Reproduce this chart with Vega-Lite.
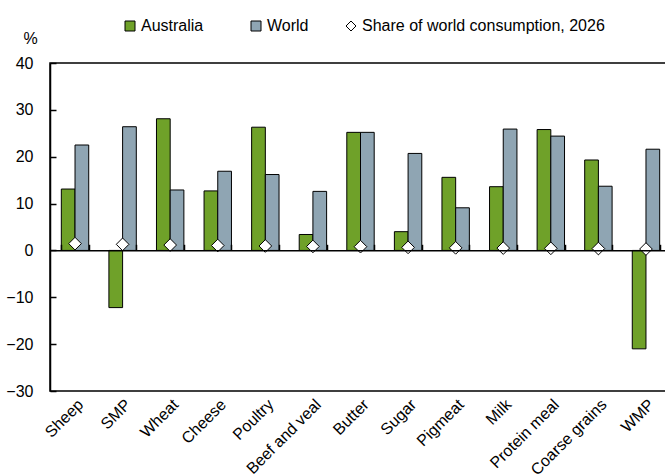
{
  "$schema": "https://vega.github.io/schema/vega-lite/v6.json",
  "width": 621,
  "height": 328,
  "autosize": {"type": "none"},
  "padding": {"left": 50, "top": 63, "right": 0, "bottom": 83},
  "background": "white",
  "config": {
    "font": "Liberation Sans",
    "view": {"stroke": "black", "strokeWidth": 1.5},
    "axis": {"labelColor": "black", "labelFontSize": 16, "labelFont": "Liberation Sans", "grid": false, "titleColor": "black"}
  },
  "datasets": {
    "bars": [
      {"product": "Sheep", "series": "Australia", "value": 13.1},
      {"product": "Sheep", "series": "World", "value": 22.5},
      {"product": "SMP", "series": "Australia", "value": -12.2},
      {"product": "SMP", "series": "World", "value": 26.4},
      {"product": "Wheat", "series": "Australia", "value": 28.1},
      {"product": "Wheat", "series": "World", "value": 12.9},
      {"product": "Cheese", "series": "Australia", "value": 12.7},
      {"product": "Cheese", "series": "World", "value": 16.9},
      {"product": "Poultry", "series": "Australia", "value": 26.3},
      {"product": "Poultry", "series": "World", "value": 16.2},
      {"product": "Beef and veal", "series": "Australia", "value": 3.4},
      {"product": "Beef and veal", "series": "World", "value": 12.6},
      {"product": "Butter", "series": "Australia", "value": 25.2},
      {"product": "Butter", "series": "World", "value": 25.2},
      {"product": "Sugar", "series": "Australia", "value": 4.0},
      {"product": "Sugar", "series": "World", "value": 20.7},
      {"product": "Pigmeat", "series": "Australia", "value": 15.6},
      {"product": "Pigmeat", "series": "World", "value": 9.1},
      {"product": "Milk", "series": "Australia", "value": 13.6},
      {"product": "Milk", "series": "World", "value": 25.9},
      {"product": "Protein meal", "series": "Australia", "value": 25.8},
      {"product": "Protein meal", "series": "World", "value": 24.4},
      {"product": "Coarse grains", "series": "Australia", "value": 19.3},
      {"product": "Coarse grains", "series": "World", "value": 13.7},
      {"product": "WMP", "series": "Australia", "value": -21.0},
      {"product": "WMP", "series": "World", "value": 21.6}
    ],
    "share": [
      {"product": "Sheep", "label": "Share of world consumption, 2026", "share": 1.45},
      {"product": "SMP", "label": "Share of world consumption, 2026", "share": 1.3},
      {"product": "Wheat", "label": "Share of world consumption, 2026", "share": 1.15},
      {"product": "Cheese", "label": "Share of world consumption, 2026", "share": 1.05},
      {"product": "Poultry", "label": "Share of world consumption, 2026", "share": 0.95},
      {"product": "Beef and veal", "label": "Share of world consumption, 2026", "share": 0.85},
      {"product": "Butter", "label": "Share of world consumption, 2026", "share": 0.8},
      {"product": "Sugar", "label": "Share of world consumption, 2026", "share": 0.65},
      {"product": "Pigmeat", "label": "Share of world consumption, 2026", "share": 0.55},
      {"product": "Milk", "label": "Share of world consumption, 2026", "share": 0.5},
      {"product": "Protein meal", "label": "Share of world consumption, 2026", "share": 0.45},
      {"product": "Coarse grains", "label": "Share of world consumption, 2026", "share": 0.4},
      {"product": "WMP", "label": "Share of world consumption, 2026", "share": 0.3}
    ]
  },
  "layer": [
    {
      "data": {"name": "bars"},
      "mark": {"type": "bar", "stroke": "black", "strokeWidth": 1},
      "encoding": {
        "x": {
          "field": "product", "type": "nominal", "sort": null,
          "scale": {"paddingInner": 0.424, "paddingOuter": 0.238},
          "axis": {"orient": "bottom", "title": null, "ticks": false, "domain": false, "labelAngle": -45, "labelPadding": 5}
        },
        "xOffset": {"field": "series", "type": "nominal", "sort": ["Australia", "World"]},
        "y": {
          "field": "value", "type": "quantitative",
          "scale": {"domain": [-30, 40], "nice": false, "zero": false},
          "axis": {
            "values": [-30, -20, -10, 0, 10, 20, 30, 40],
            "title": "%", "titleAngle": 0, "titleFontSize": 16, "titleFontWeight": "normal",
            "titleX": -20, "titleY": -20, "titleAlign": "center", "titleBaseline": "alphabetic",
            "domain": true, "domainColor": "black", "domainWidth": 1.5,
            "ticks": true, "tickColor": "black", "tickSize": -6, "tickWidth": 1.5,
            "labelPadding": 23
          }
        },
        "color": {
          "field": "series", "type": "nominal",
          "scale": {"domain": ["Australia", "World"], "range": ["#6fa129", "#8fa5b3"]},
          "legend": {
            "title": null, "orient": "none", "legendX": 72, "legendY": -45, "direction": "horizontal",
            "symbolType": "square", "symbolSize": 100, "symbolStrokeColor": "black", "symbolStrokeWidth": 1,
            "labelFontSize": 16, "labelColor": "black", "labelOffset": 3, "columnPadding": 44, "padding": 0
          }
        }
      }
    },
    {
      "data": {"name": "share"},
      "mark": {"type": "rule", "opacity": 0},
      "encoding": {
        "x": {
          "field": "product", "type": "nominal", "sort": null,
          "axis": {"orient": "bottom", "offset": -140.7, "title": null, "labels": false, "ticks": true, "tickBand": "extent", "tickSize": -6, "tickColor": "black", "tickWidth": 1.5, "domain": true, "domainColor": "black", "domainWidth": 1.5, "zindex": 1}
        },
        "y": {"datum": 0, "type": "quantitative"}
      }
    },
    {
      "data": {"name": "share"},
      "mark": {"type": "point", "shape": "diamond", "filled": true, "stroke": "black", "strokeWidth": 1, "size": 160, "opacity": 1},
      "encoding": {
        "x": {"field": "product", "type": "nominal", "sort": null, "axis": null},
        "y": {"field": "share", "type": "quantitative"},
        "fill": {
          "field": "label", "type": "nominal",
          "scale": {"range": ["white"]},
          "legend": {
            "title": null, "orient": "none", "legendX": 293, "legendY": -45,
            "symbolType": "diamond", "symbolSize": 100,
            "symbolStrokeColor": "black", "symbolStrokeWidth": 1,
            "labelFontSize": 16, "labelColor": "black", "labelOffset": 3, "padding": 0, "labelLimit": 400
          }
        }
      }
    }
  ],
  "resolve": {"axis": {"x": "independent"}}
}
